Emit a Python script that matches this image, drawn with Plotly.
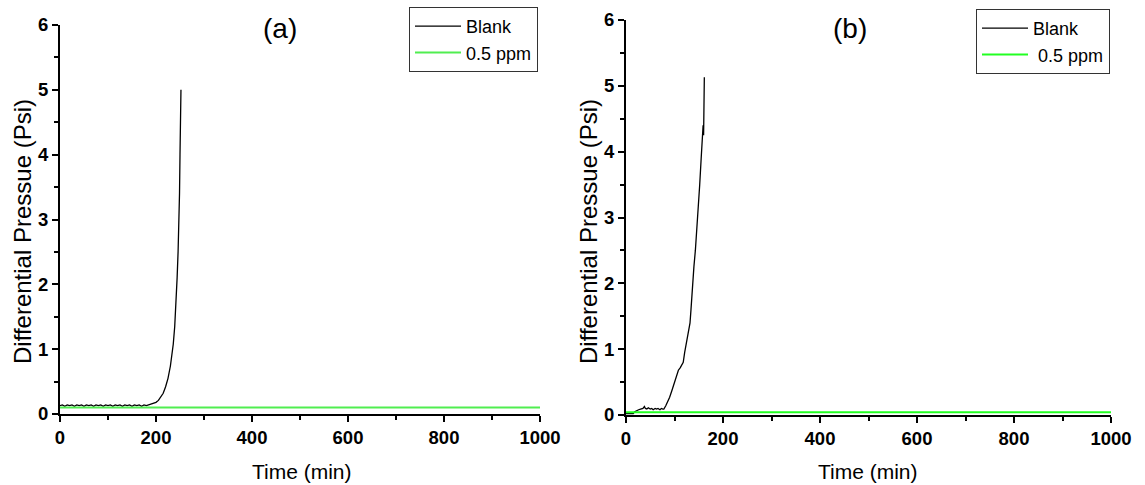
import plotly.graph_objects as go

# ---- Panel (a): blank vs 0.5 ppm ----
blank_a_time = [0, 5, 10, 15, 20, 25, 30, 35, 40, 45, 50, 55, 60, 65, 70, 75, 80, 85, 90,
                95, 100, 105, 110, 115, 120, 125, 130, 135, 140, 145, 150, 155, 160, 165,
                170, 175, 180, 185, 190, 195, 200, 205, 210, 215, 220, 225, 230, 233, 236,
                239, 242, 244, 246, 248, 249, 250, 251, 252]
blank_a_dp = [0.13, 0.14, 0.12, 0.14, 0.13, 0.14, 0.12, 0.14, 0.13, 0.14, 0.12, 0.14, 0.13,
              0.14, 0.12, 0.14, 0.13, 0.14, 0.12, 0.14, 0.13, 0.14, 0.12, 0.14, 0.13, 0.14,
              0.12, 0.14, 0.13, 0.14, 0.12, 0.14, 0.13, 0.14, 0.12, 0.14, 0.13, 0.14, 0.15,
              0.16, 0.18, 0.21, 0.26, 0.32, 0.42, 0.55, 0.74, 0.90, 1.08, 1.35, 1.75, 2.10,
              2.50, 3.00, 3.40, 4.00, 4.50, 5.00]
ppm_a_time = [0, 1000]
ppm_a_dp = [0.10, 0.10]

# ---- Panel (b): blank vs 0.5 ppm ----
blank_b_time = [0, 5, 10, 15, 18, 22, 26, 30, 35, 38, 40, 43, 46, 50, 53, 56, 60, 63, 66,
                70, 73, 76, 78, 82, 86, 90, 95, 100, 104, 108, 112, 116, 118, 121, 125, 129,
                132, 134, 136, 138, 140, 143, 146, 149, 152, 155, 158, 159, 160, 160.5, 161,
                161.2, 161.5]
blank_b_dp = [0.02, 0.02, 0.01, 0.02, 0.05, 0.07, 0.08, 0.09, 0.10, 0.13, 0.10, 0.09, 0.11,
              0.09, 0.10, 0.08, 0.10, 0.09, 0.10, 0.08, 0.10, 0.09, 0.09, 0.14, 0.20, 0.27,
              0.38, 0.50, 0.60, 0.68, 0.72, 0.78, 0.80, 0.95, 1.10, 1.25, 1.40, 1.60, 1.85,
              2.05, 2.25, 2.50, 2.80, 3.10, 3.50, 3.90, 4.30, 4.40, 4.25, 4.50, 4.80, 4.75,
              5.13]
ppm_b_time = [0, 1000]
ppm_b_dp = [0.04, 0.04]

series_names = ["Blank", "0.5 ppm", "\u00a00.5 ppm"]
panel_labels = ["(a)", "(b)"]
x_title = "Time (min)"
y_title = "Differential Pressue (Psi)"

FONT = "Arial, Liberation Sans, sans-serif"
W, H = 1145, 485

fig = go.Figure()
fig.add_trace(go.Scatter(x=blank_a_time, y=blank_a_dp, mode="lines", name=series_names[0],
                         line=dict(color="black", width=1.3), xaxis="x", yaxis="y",
                         legend="legend"))
fig.add_trace(go.Scatter(x=ppm_a_time, y=ppm_a_dp, mode="lines", name=series_names[1],
                         line=dict(color="#50ee50", width=2), xaxis="x", yaxis="y",
                         legend="legend"))
fig.add_trace(go.Scatter(x=blank_b_time, y=blank_b_dp, mode="lines", name=series_names[0],
                         line=dict(color="black", width=1.3), xaxis="x2", yaxis="y2",
                         legend="legend2"))
fig.add_trace(go.Scatter(x=ppm_b_time, y=ppm_b_dp, mode="lines", name=series_names[2],
                         line=dict(color="#22ff22", width=2), xaxis="x2", yaxis="y2",
                         legend="legend2"))

def px_x(p):
    return p / W

def px_y(p):
    return 1 - p / H

tickfont = dict(family=FONT, size=18.5, color="black", weight="bold")

def xaxis_cfg(domain, anchor):
    return dict(domain=domain, anchor=anchor, range=[0, 1000], dtick=200, tick0=0,
                showline=True, linewidth=2, linecolor="black", ticks="outside",
                ticklen=6, tickwidth=2, tickcolor="black", showgrid=False, zeroline=False,
                tickfont=tickfont, automargin=False,
                minor=dict(dtick=100, ticks="outside", ticklen=4, tickwidth=2,
                           tickcolor="black", showgrid=False))

def yaxis_cfg(domain, anchor):
    return dict(domain=domain, anchor=anchor, range=[0, 6], dtick=1, tick0=0,
                showline=True, linewidth=2, linecolor="black", ticks="outside",
                ticklen=6, tickwidth=2, tickcolor="black", showgrid=False, zeroline=False,
                tickfont=tickfont, automargin=False,
                minor=dict(dtick=0.5, ticks="outside", ticklen=4, tickwidth=2,
                           tickcolor="black", showgrid=False))

legend_style = dict(font=dict(family=FONT, size=18, color="black"), bgcolor="white",
                    bordercolor="#333333", borderwidth=1, xanchor="left", yanchor="top",
                    tracegroupgap=0, itemwidth=46)

fig.update_layout(
    template="none",
    width=W, height=H,
    margin=dict(l=0, r=0, t=0, b=0, pad=0),
    paper_bgcolor="white", plot_bgcolor="white",
    font=dict(family=FONT, color="black"),
    xaxis=xaxis_cfg([px_x(60), px_x(540)], "y"),
    yaxis=yaxis_cfg([px_y(414), px_y(25)], "x"),
    xaxis2=xaxis_cfg([px_x(626), px_x(1111)], "y2"),
    yaxis2=yaxis_cfg([px_y(415), px_y(20)], "x2"),
    legend=dict(x=px_x(409), y=px_y(7), **legend_style),
    legend2=dict(x=px_x(976), y=px_y(9), **legend_style),
)

annotations = [
    dict(text=panel_labels[0], x=px_x(280), y=px_y(28), font=dict(size=28)),
    dict(text=panel_labels[1], x=px_x(850), y=px_y(28), font=dict(size=28)),
    dict(text=x_title, x=px_x(302), y=px_y(471), font=dict(size=21)),
    dict(text=x_title, x=px_x(868), y=px_y(471), font=dict(size=21)),
    dict(text=y_title, x=px_x(22), y=px_y(232), textangle=-90, font=dict(size=24)),
    dict(text=y_title, x=px_x(588), y=px_y(232), textangle=-90, font=dict(size=24)),
]
for a in annotations:
    a.update(xref="paper", yref="paper", showarrow=False, xanchor="center",
             yanchor="middle")
    a["font"].update(family=FONT, color="black")
fig.update_layout(annotations=annotations)

fig.write_html("out.html")
